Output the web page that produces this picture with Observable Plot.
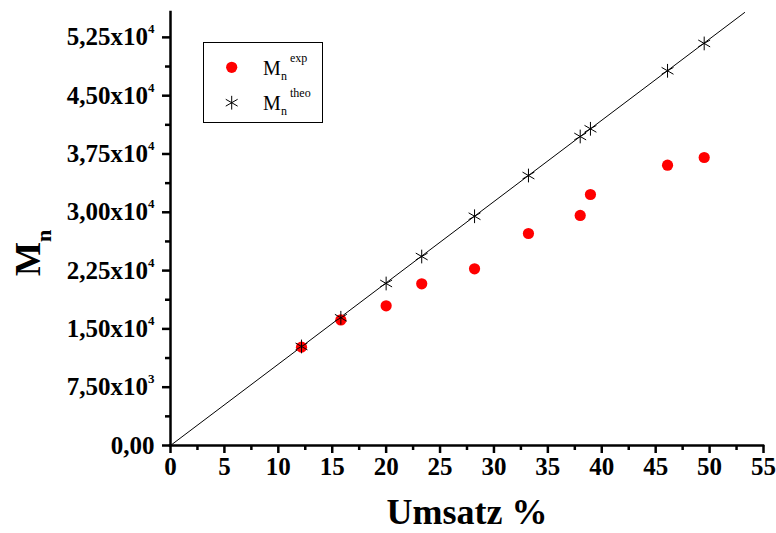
<!DOCTYPE html>
<html>
<head>
<meta charset="utf-8">
<script src="https://cdn.jsdelivr.net/npm/d3@7"></script>
<script src="https://cdn.jsdelivr.net/npm/@observablehq/plot@0.6"></script>
<style>
  html, body { margin: 0; padding: 0; background: #fff; }
  #chart { width: 776px; height: 533px; }
</style>
</head>
<body>
<div id="chart"></div>
<script>
// ---- data ----
const umsatz  = [12.15, 15.8, 20.0, 23.3, 28.2, 33.2, 38.0, 38.95, 46.1, 49.5];
const mnExp   = [12650, 16150, 17970, 20800, 22730, 27270, 29590, 32290, 36060, 37050];
const mnTheo  = [12740, 16430, 20840, 24310, 29490, 34730, 39750, 40740, 48200, 51720];
const fitX    = [0, 53.25];
const fitY    = [0, 55700];
const xTicks  = [0, 5, 10, 15, 20, 25, 30, 35, 40, 45, 50, 55];
const xMinor  = [2.5, 7.5, 12.5, 17.5, 22.5, 27.5, 32.5, 37.5, 42.5, 47.5, 52.5];
const yTicks  = [0, 7500, 15000, 22500, 30000, 37500, 45000, 52500];
const yMinor  = [3750, 11250, 18750, 26250, 33750, 41250, 48750];
const yTickLabels = ["0,00", "7,50x10^3", "1,50x10^4", "2,25x10^4", "3,00x10^4", "3,75x10^4", "4,50x10^4", "5,25x10^4"];
const xTitle = "Umsatz %";
const legendItems = ["exp", "theo"];

const rows = umsatz.map((u, i) => ({u, exp: mnExp[i], theo: mnTheo[i]}));
const fit = fitX.map((x, i) => ({x, y: fitY[i]}));

const serif = "'Liberation Serif', 'Times New Roman', serif";

const chart = Plot.plot({
  width: 776,
  height: 533,
  marginLeft: 170,
  marginRight: 13,
  marginTop: 12,
  marginBottom: 88,
  style: {fontFamily: serif, background: "white", color: "black"},
  x: {domain: [0, 55]},
  y: {domain: [0, 55700]},
  marks: [
    Plot.axisX({ticks: xMinor, tickSize: 5, strokeWidth: 2.5, tickFormat: () => "", label: null}),
    Plot.axisX({ticks: xTicks, tickSize: 8, tickPadding: 4, strokeWidth: 2.5, fontSize: 25, fontWeight: "bold", tickFormat: d => String(d), label: null}),
    Plot.axisY({ticks: yMinor, tickSize: 5, strokeWidth: 2.5, tickFormat: () => "", label: null}),
    Plot.axisY({ticks: yTicks, tickSize: 8, tickPadding: 8, strokeWidth: 2.5, fontSize: 25, fontWeight: "bold", tickFormat: d => yTickLabels[yTicks.indexOf(d)], label: null}),
    Plot.ruleY([0], {strokeWidth: 2.5, strokeLinecap: "square"}),
    Plot.ruleX([0], {strokeWidth: 2.5, strokeLinecap: "square"}),
    Plot.line(fit, {x: "x", y: "y", stroke: "black", strokeWidth: 1}),
    Plot.dot(rows, {x: "u", y: "exp", fill: "#ff0000", r: 5.6}),
    Plot.dot(rows, {x: "u", y: "theo", symbol: "asterisk", stroke: "black", strokeWidth: 1, r: 6.5}),
    Plot.text([xTitle], {frameAnchor: "bottom", dy: 78, fontSize: 36, fontWeight: "bold", fontFamily: serif})
  ]
});

document.getElementById("chart").appendChild(chart);
const svg = d3.select(chart);

// superscripts in the y tick labels
svg.selectAll("text").each(function () {
  const t = this.textContent;
  if (t.includes("^")) {
    const [base, exp] = t.split("^");
    this.textContent = base;
    d3.select(this).append("tspan").attr("dy", -12).attr("font-size", 13).text(exp);
  }
});

// y-axis title M_n
const yt = svg.append("text")
  .attr("transform", "translate(40,276) rotate(-90)")
  .attr("text-anchor", "start")
  .attr("font-family", serif)
  .attr("font-weight", "bold")
  .attr("fill", "black");
yt.append("tspan").attr("font-size", 36).text("M");
yt.append("tspan").attr("font-size", 22).attr("dy", 11).text("n");

// legend
const lg = svg.append("g").attr("font-family", serif).attr("text-anchor", "start").attr("fill", "black");
lg.append("rect").attr("x", 203.5).attr("y", 42.5).attr("width", 119).attr("height", 80)
  .attr("fill", "white").attr("stroke", "black").attr("stroke-width", 1);
lg.append("circle").attr("cx", 231.7).attr("cy", 67.3).attr("r", 5.6).attr("fill", "#ff0000");
lg.append("path").attr("transform", "translate(231.7,102.7)")
  .attr("d", d3.symbol(d3.symbolAsterisk, Math.PI * 6.5 * 6.5)())
  .attr("stroke", "black").attr("fill", "none");
legendItems.forEach((sup, i) => {
  const base = 75 + i * 35;
  lg.append("text").attr("x", 263).attr("y", base).attr("font-size", 20).text("M");
  lg.append("text").attr("x", 281).attr("y", base + 5).attr("font-size", 12).text("n");
  lg.append("text").attr("x", 290).attr("y", base - 13).attr("font-size", 12).text(sup);
});
</script>
</body>
</html>
